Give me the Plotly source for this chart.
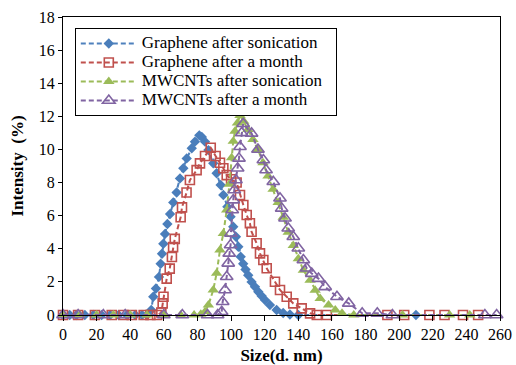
import plotly.graph_objects as go

# ---- data ----
gs_x = [0, 4, 8, 13, 18, 23, 28, 33, 38, 43, 47, 50, 52.5, 53.7, 55.3, 57.1, 58.1, 58.9, 59.7, 60.7, 62.1, 63.7,
        65.6, 67.6, 69.6, 71.6, 73.6, 76.6, 78.5, 81.1, 82.6, 84.5, 86.5, 89.4, 91.4, 93.8, 95.4, 97.8, 99.7,
        101.3, 102.9, 104.3, 105.7, 107.2, 108.6, 110.2, 112.2, 114.2, 116.2, 118.2, 120.2, 123.1, 127.1, 131,
        135, 140, 210]
gs_y = [0, 0, 0, 0, 0, 0, 0, 0, 0, 0, 0, 0, 0.3, 1.1, 1.6, 2.3, 3.1, 3.7, 4.3, 4.9, 5.5, 6.1,
        6.8, 7.4, 8.25, 8.86, 9.46, 10.07, 10.47, 10.85, 10.75, 10.47, 9.96, 9.16, 8.56, 7.85, 7.25, 6.54, 5.94,
        5.33, 4.73, 4.12, 3.52, 3.1, 2.75, 2.4, 2.0, 1.7, 1.4, 1.15, 0.9, 0.6, 0.3, 0.12,
        0.03, 0, 0]

gm_x = [0, 9, 19, 29, 36, 41, 48, 52, 56, 58.5, 59.3, 59.8, 61.7, 63.5, 64.8, 65.5, 66.5, 70, 70.8, 73.5,
        75.5, 79.5, 81.5, 84.5, 87.9, 90.8, 93.4, 95.4, 97.4, 100, 103.3, 105.3, 107.3, 109.3, 111.2, 112.2,
        115.2, 117.2, 119.2, 121.2, 126.1, 129.1, 133.1, 137, 142, 147, 151, 157, 193, 203, 218, 227, 238, 247]
gm_y = [0, 0, 0, 0, 0, 0, 0, 0, 0, 0.15, 0.7, 1.1, 2.2, 2.8, 3.5, 4.1, 4.6, 5.9, 6.5, 7.4,
        8.15, 8.75, 9.16, 9.6, 10.1, 9.6, 9.2, 8.86, 8.45, 8.2, 8.0, 7.25, 6.64, 6.04, 5.54, 5.03,
        4.33, 3.72, 3.32, 2.82, 2.01, 1.51, 1.1, 0.7, 0.4, 0.1, 0, 0, 0, 0, 0, 0, 0, 0]

ms_x = [0, 10, 20, 30, 40, 50, 60, 70, 78, 82, 84.5, 86.5, 89.4, 91.4, 93.4, 95.4, 97.4, 99, 100.3, 101.3,
        102.3, 103.8, 105.3, 107.5, 110, 113, 116, 119, 122, 125, 128, 131, 134, 137, 140, 143, 147, 150,
        153, 158, 162, 166, 173, 202, 230, 242]
ms_y = [0, 0, 0, 0, 0, 0, 0, 0, 0, 0.05, 0.2, 0.6, 1.51, 2.52, 3.92, 4.93, 6.34, 7.9, 9.5, 10.5,
        11.1, 11.6, 12.05, 11.7, 11.2, 10.6, 10.0, 9.2, 8.4, 7.6, 6.8, 5.9, 5.0, 4.2, 3.4, 2.7, 2.1, 1.5,
        1.0, 0.6, 0.3, 0.1, 0, 0, 0, 0]

mm_x = [0, 9, 24, 37, 60, 71, 86, 92, 94.4, 95, 96.4, 97.4, 98.3, 98.9, 99.7, 99.9, 100.7, 101.3, 101.9,
        102.9, 103.9, 104.7, 105.3, 106.3, 107.2, 112.2, 116, 119.2, 120.8, 125.1, 129.1, 130.1, 132.1, 134,
        137, 140, 143, 145, 148, 152, 156, 163, 170, 178, 187, 196, 251, 258]
mm_y = [0, 0, 0, 0, 0, 0, 0, 0, 0.2, 0.8, 1.51, 2.31, 3.12, 3.72, 4.23, 4.93, 6.34, 6.94, 7.55,
        8.15, 8.86, 9.46, 10.16, 11.0, 11.55, 10.97, 10.0, 9.36, 8.76, 8.05, 7.05, 6.44, 5.84, 5.24,
        4.73, 4.03, 3.32, 2.82, 2.5, 2.2, 1.7, 1.1, 0.7, 0.1, 0.1, 0, 0, 0]

names = ["Graphene after sonication", "Graphene after a month",
         "MWCNTs after sonication", "MWCNTs after a month"]
x_ticks = list(range(0, 261, 20))
y_ticks = list(range(0, 19, 2))

FONT = "Liberation Serif, Times New Roman, serif"
DASH = "5px,3px"


def lbl(s):
    return '<span style="font-size:17px">' + s + '&nbsp;&nbsp;</span>'


fig = go.Figure()
fig.add_trace(go.Scatter(x=gs_x, y=gs_y, name=lbl(names[0]), mode="lines+markers",
                         line=dict(color="#4F81BD", width=2, dash=DASH),
                         marker=dict(symbol="diamond", size=8, color="#4A7EBB"),
                         cliponaxis=False))
fig.add_trace(go.Scatter(x=gm_x, y=gm_y, name=lbl(names[1]), mode="lines+markers",
                         line=dict(color="#C0504D", width=2, dash=DASH),
                         marker=dict(symbol="square-open", size=9, color="#C0504D", line=dict(width=1.6)),
                         cliponaxis=False))
fig.add_trace(go.Scatter(x=ms_x, y=ms_y, name=lbl(names[2]), mode="lines+markers",
                         line=dict(color="#9BBB59", width=2, dash=DASH),
                         marker=dict(symbol="triangle-up", size=10, color="#9BBB59"),
                         cliponaxis=False))
fig.add_trace(go.Scatter(x=mm_x, y=mm_y, name=lbl(names[3]), mode="lines+markers",
                         line=dict(color="#8064A2", width=2, dash=DASH),
                         marker=dict(symbol="triangle-up-open", size=11, color="#8064A2", line=dict(width=1.6)),
                         cliponaxis=False))

fig.update_layout(
    width=516, height=365,
    margin=dict(l=63, r=16, t=17, b=50),
    paper_bgcolor="white", plot_bgcolor="white",
    font=dict(family=FONT, size=16, color="black"),
    showlegend=True,
    legend=dict(x=0.027, y=0.963, xanchor="left", yanchor="top",
                bgcolor="white", bordercolor="black", borderwidth=1,
                font=dict(family=FONT, size=12, color="black"),
                tracegroupgap=0, itemwidth=56),
    xaxis=dict(range=[0, 260], tickmode="array", tickvals=x_ticks, automargin=False,
               showline=True, linecolor="black", linewidth=1.2, mirror=True,
               ticks="outside", ticklen=5, tickcolor="black", showgrid=False, zeroline=False,
               title=dict(text="<b>Size(d. nm)</b>", font=dict(family=FONT, size=17), standoff=6),
               tickfont=dict(family=FONT, size=16)),
    yaxis=dict(range=[0, 18], tickmode="array", tickvals=y_ticks, automargin=False,
               showline=True, linecolor="black", linewidth=1.2, mirror=True,
               ticks="outside", ticklen=4, tickcolor="black", showgrid=False, zeroline=False,
               title=dict(text="<b>Intensity  (%)</b>", font=dict(family=FONT, size=17), standoff=10),
               tickfont=dict(family=FONT, size=16)),
)

fig.write_html("out.html")
